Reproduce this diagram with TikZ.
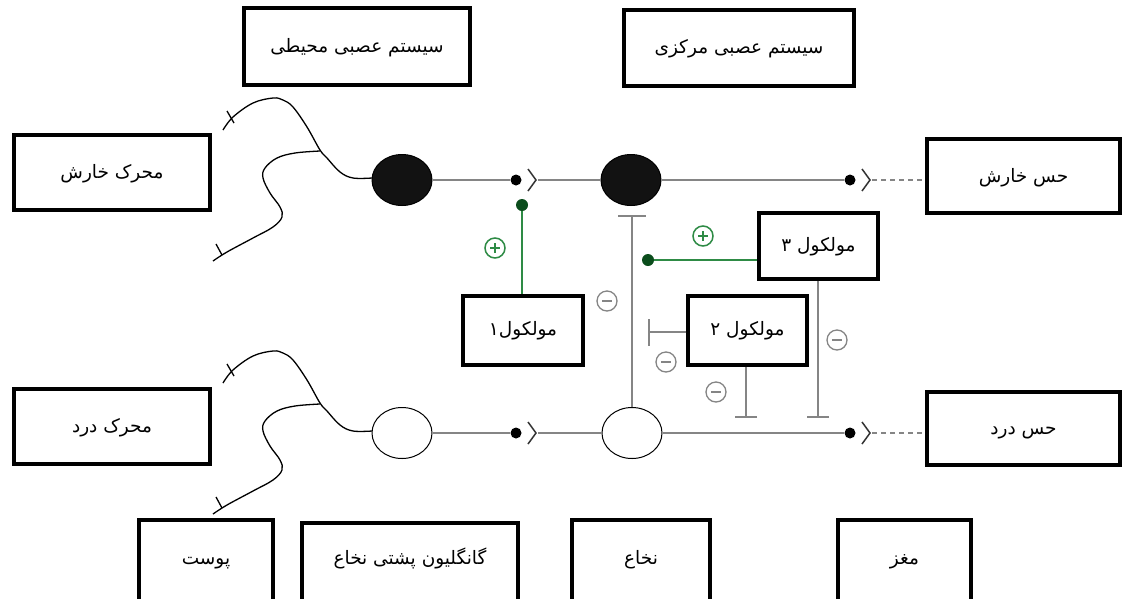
\documentclass[tikz,border=0pt]{standalone}
\usepackage{fontspec}
\usetikzlibrary{shapes.geometric,arrows.meta,calc}
\newfontfamily\arabicfont[Script=Arabic]{DejaVu Sans}
\TeXXeTstate=1
\newcommand{\fatext}[1]{{\arabicfont\beginR #1\endR}}
\definecolor{lgray}{HTML}{858585}
\definecolor{ngreen}{HTML}{2E8B45}
\definecolor{dgreen}{HTML}{0B4D1C}
\begin{document}
\begin{tikzpicture}[x=1pt,y=-1pt,
  lbl/.style={draw=black, line width=3.5pt, fill=white, inner sep=0pt},
  txt/.style={font=\fontsize{18.5}{20}\selectfont, inner sep=0pt, text height=13pt, text depth=5pt},
  cellf/.style={ellipse, draw=black, fill=black!93, line width=1pt, minimum width=60pt, minimum height=51pt, inner sep=0pt},
  cello/.style={ellipse, draw=black, fill=white, line width=1pt, minimum width=60pt, minimum height=51pt, inner sep=0pt},
  sdot/.style={circle, fill=black, minimum size=11pt, inner sep=0pt},
  gdot/.style={circle, fill=dgreen, minimum size=12pt, inner sep=0pt},
  gline/.style={draw=lgray, line width=1.6pt},
  grline/.style={draw=ngreen, line width=1.6pt},
  dashline/.style={draw=lgray, line width=1.4pt, dash pattern=on 5pt off 4pt},
  chev/.style={draw=black!80, line width=1.5pt},
  dend/.style={draw=black, line width=1.3pt},
  inhib/.style={draw=lgray, line width=1.6pt},
  negsign/.style={circle, draw=lgray, line width=1.3pt, minimum width=19pt, minimum height=20pt, inner sep=0pt,
    path picture={\draw[lgray, line width=2.2pt] ([xshift=-5pt]path picture bounding box.center) -- ([xshift=5pt]path picture bounding box.center);}},
  possign/.style={circle, draw=ngreen, line width=1.5pt, minimum width=19pt, minimum height=20pt, inner sep=0pt,
    path picture={\draw[ngreen, line width=2.2pt] ([xshift=-5pt]path picture bounding box.center) -- ([xshift=5pt]path picture bounding box.center)
      ([yshift=-5pt]path picture bounding box.center) -- ([yshift=5pt]path picture bounding box.center);}}
]
\useasboundingbox[fill=white] (0,0) rectangle (1124,598);

% ---- boxes ----
\node[lbl, minimum width=226pt, minimum height=77pt] (pns) at (357,46.5) {};
\node[lbl, minimum width=230pt, minimum height=76pt] (cns) at (739,48) {};
\node[lbl, minimum width=196pt, minimum height=75pt] (itchstim) at (112,172.5) {};
\node[lbl, minimum width=196pt, minimum height=75pt] (painstim) at (112,426.5) {};
\node[lbl, minimum width=193pt, minimum height=74pt] (itchsense) at (1023.5,176) {};
\node[lbl, minimum width=193pt, minimum height=73pt] (painsense) at (1023.5,428.5) {};
\node[lbl, minimum width=119pt, minimum height=66pt] (m3) at (818.5,246) {};
\node[lbl, minimum width=120pt, minimum height=69pt] (m1) at (523,330.5) {};
\node[lbl, minimum width=119pt, minimum height=69pt] (m2) at (747.5,330.5) {};
\node[lbl, minimum width=134pt, minimum height=88pt] (skin) at (206,564) {};
\node[lbl, minimum width=216pt, minimum height=88pt] (drg) at (410,567) {};
\node[lbl, minimum width=138pt, minimum height=88pt] (spinal) at (641,564) {};
\node[lbl, minimum width=133pt, minimum height=88pt] (brain) at (904.5,564) {};

% ---- box texts ----
\node[txt] (pnst) at (357,48) {\fatext{سیستم عصبی محیطی}};
\node[txt] (cnst) at (739,49) {\fatext{سیستم عصبی مرکزی}};
\node[txt] (itchstimt) at (112,174) {\fatext{محرک خارش}};
\node[txt] (painstimt) at (112,428) {\fatext{محرک درد}};
\node[txt] (itchsenset) at (1023.5,178) {\fatext{حس خارش}};
\node[txt] (painsenset) at (1023.5,430) {\fatext{حس درد}};
\node[txt] (m3t) at (818.5,247) {\fatext{مولکول ۳}};
\node[txt] (m1t) at (523,331) {\fatext{مولکول۱}};
\node[txt] (m2t) at (747.5,331) {\fatext{مولکول ۲}};
\node[txt] (skint) at (206,560) {\fatext{پوست}};
\node[txt] (drgt) at (410,560) {\fatext{گانگلیون پشتی نخاع}};
\node[txt] (spinalt) at (641,560) {\fatext{نخاع}};
\node[txt] (braint) at (904.5,560) {\fatext{مغز}};

% ---- cells ----
\node[cellf] (c1) at (402,180) {};
\node[cellf] (c2) at (631,180) {};
\node[cello] (c3) at (402,433) {};
\node[cello] (c4) at (632,433) {};

% ---- synapse dots ----
\node[sdot] (d1) at (516,180) {};
\node[sdot] (d2) at (850,180) {};
\node[sdot] (d3) at (516,433) {};
\node[sdot] (d4) at (850,433) {};
\coordinate (k1) at (538,180);
\coordinate (k2) at (872,180);
\coordinate (k3) at (538,433);
\coordinate (k4) at (872,433);

% ---- horizontal lines ----
\draw[gline] (c1) -- (d1);
\draw[gline] (k1) -- (c2);
\draw[gline] (c2) -- (d2);
\draw[dashline] (k2) -- (k2 -| itchsense.west);
\draw[gline] (c3) -- (d3);
\draw[gline] (k3) -- (c4);
\draw[gline] (c4) -- (d4);
\draw[dashline] (k4) -- (k4 -| painsense.west);

% chevrons
\foreach \k in {k1,k2,k3,k4}{
  \draw[chev] ($(\k)+(-10,-11)$) -- ($(\k)+(-2,0)$) -- ($(\k)+(-10,11)$);
}

% ---- green excitatory links ----
\node[gdot] (g1) at (522,205) {};
\node[gdot] (g3) at (648,260) {};
\draw[grline] (g1) -- (g1 |- m1.north);
\draw[grline] (g3) -- (g3 -| m3.west);
\node[possign] (p1) at (495,248) {};
\node[possign] (p3) at (703,236) {};

% ---- inhibitory links ----
\coordinate (b0) at (632,215);
\coordinate (b2l) at (648,332);
\coordinate (b2) at (746,418);
\coordinate (b3) at (818,418);
\draw[inhib, -{Bar[width=28pt,line width=1.6pt]}] (c4.north) -- (b0);
\draw[inhib, -{Bar[width=27pt,line width=1.6pt]}] (b2l -| m2.west) -- (b2l);
\draw[inhib, -{Bar[width=22pt,line width=1.6pt]}] (b2 |- m2.south) -- (b2);
\draw[inhib, -{Bar[width=22pt,line width=1.6pt]}] (b3 |- m3.south) -- (b3);
\node[negsign] (n1) at (607,301) {};
\node[negsign] (n2) at (666,362) {};
\node[negsign] (n3) at (716,392) {};
\node[negsign] (n4) at (837,340) {};

% ---- dendrites ----
\foreach \dy in {0, 253}{
\begin{scope}[yshift=-\dy pt]
  \draw[dend] plot[smooth, tension=0.6] coordinates {(372,178) (353,178) (340,172) (327,158) (320,150) (307,127) (293,107) (283,100) (273,98) (253,103) (233,117) (223,130)};
  \draw[dend] plot[smooth, tension=0.6] coordinates {(320,151) (295,153) (277,158) (265,168) (263,178) (270,193) (280,207) (282,217) (273,227) (253,238) (227,252) (213,261)};
  \draw[dend] (227,111) -- (234,123);
  \draw[dend] (216,244) -- (222,255);
\end{scope}
}
\end{tikzpicture}
\end{document}
